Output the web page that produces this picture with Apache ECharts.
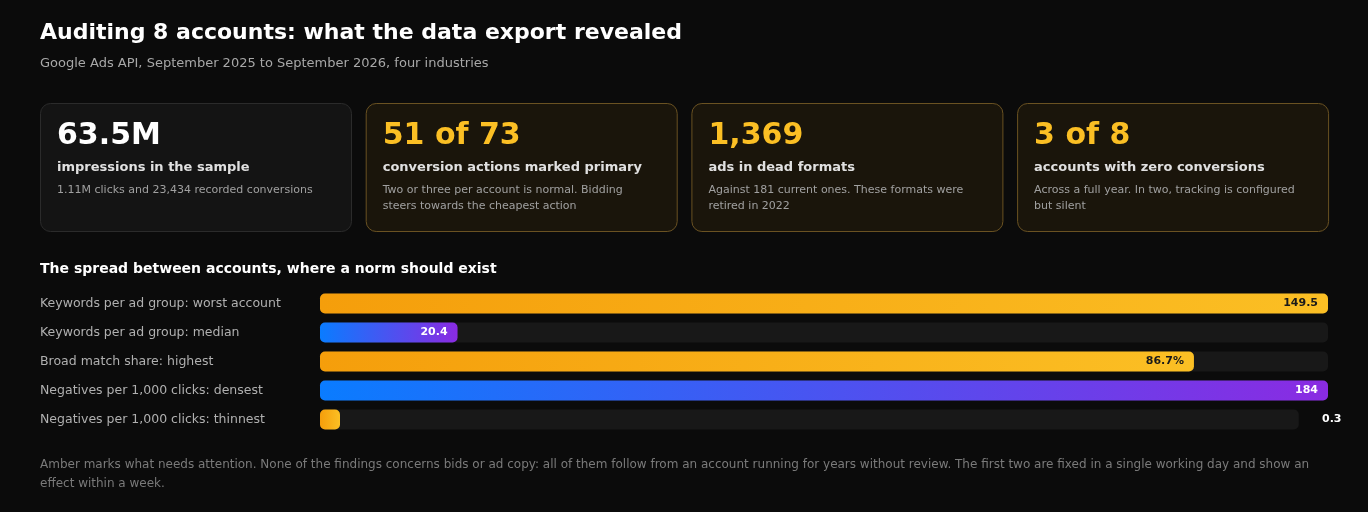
<!DOCTYPE html>
<html><head><meta charset="utf-8">
<script src="https://cdn.jsdelivr.net/npm/echarts@6/dist/echarts.min.js"></script>
<style>html,body{margin:0;background:#0b0b0b}#c{width:1368px;height:512px}</style>
</head><body><div id="c"></div>
<script>
const rowLabels = ['Keywords per ad group: worst account','Keywords per ad group: median','Broad match share: highest','Negatives per 1,000 clicks: densest','Negatives per 1,000 clicks: thinnest'];
const rowValues = [149.5, 20.4, 86.7, 184, 0.3];
const rowScaleMax = [149.5, 149.5, 100, 184, 184];
const rowText = ['149.5','20.4','86.7%','184','0.3'];
const rowTone = ['amber','blue','amber','blue','amber'];
const cardBig = ['63.5M','51 of 73','1,369','3 of 8'];
const cardHead = ['impressions in the sample','conversion actions marked primary','ads in dead formats','accounts with zero conversions'];
const cardDesc = [['1.11M clicks and 23,434 recorded conversions'],['Two or three per account is normal. Bidding','steers towards the cheapest action'],['Against 181 current ones. These formats were','retired in 2022'],['Across a full year. In two, tracking is configured','but silent']];

const F = 'DejaVu Sans';
const chart = echarts.init(document.getElementById('c'));
const g = [];
g.push({type:'text',left:40,top:22,style:{text:'Auditing 8 accounts: what the data export revealed',fill:'#fff',font:'bold 22px '+F}});
g.push({type:'text',left:40,top:57,style:{text:'Google Ads API, September 2025 to September 2026, four industries',fill:'#a8a8a8',font:'13px '+F}});
for (let i=0;i<4;i++){
  const x = 40 + i*325.7, hi = i>0;
  g.push({type:'rect',shape:{x:x+0.5,y:103.5,width:311,height:128,r:10},style:{fill:hi?'#1a150b':'#141414',stroke:hi?'#6a5222':'#2b2b2b',lineWidth:1}});
  g.push({type:'text',x:x+17,y:121,style:{text:cardBig[i],fill:hi?'#fbbf24':'#fff',font:'bold 30px '+F}});
  g.push({type:'text',x:x+17,y:161,style:{text:cardHead[i],fill:'#e0e0e0',font:'bold 13px '+F}});
  cardDesc[i].forEach((t,j)=>g.push({type:'text',x:x+17,y:185+j*16,style:{text:t,fill:'#a0a0a0',font:'11px '+F}}));
}
g.push({type:'text',left:40,top:262,style:{text:'The spread between accounts, where a norm should exist',fill:'#fff',font:'bold 14px '+F}});
g.push({type:'text',left:40,top:455,style:{text:'Amber marks what needs attention. None of the findings concerns bids or ad copy: all of them follow from an account running for years without review. The first two are fixed in a single working day and show an\neffect within a week.',fill:'#7a7a7a',font:'12px '+F,lineHeight:19}});

const amber = new echarts.graphic.LinearGradient(0,0,1,0,[{offset:0,color:'#f59e0b'},{offset:1,color:'#fbbf24'}]);
const blue = new echarts.graphic.LinearGradient(0,0,1,0,[{offset:0,color:'#0a7cff'},{offset:1,color:'#8a2be2'}]);
const pct = rowValues.map((v,i)=>v/rowScaleMax[i]*100);
const outside = pct.map(p=>p<5);
chart.setOption({
  backgroundColor:'#0b0b0b',
  graphic:g,
  grid:{left:320,right:40,top:289,height:145},
  xAxis:{type:'value',min:0,max:100,show:false},
  yAxis:{type:'category',inverse:true,data:rowLabels,axisLine:{show:false},axisTick:{show:false},
    axisLabel:{align:'left',margin:280,color:'#b0b0b0',fontFamily:F,fontSize:12.5}},
  series:[
    {type:'bar',silent:true,barWidth:20,barGap:'-100%',data:pct.map((p,i)=>outside[i]?97.1:100),
     itemStyle:{color:'#181818',borderRadius:5}},
    {type:'bar',barWidth:20,barMinHeight:20,
     data:pct.map((p,i)=>({value:p,itemStyle:{color:rowTone[i]==='amber'?amber:blue,borderRadius:5},
       label:{show:true,position:outside[i]?[1002-0,4]:'insideRight',formatter:rowText[i],
         color:outside[i]?'#fff':(rowTone[i]==='amber'?'#1a1a1a':'#fff'),fontWeight:'bold',fontSize:11,fontFamily:F,distance:10}}))}
  ]
});
</script></body></html>
